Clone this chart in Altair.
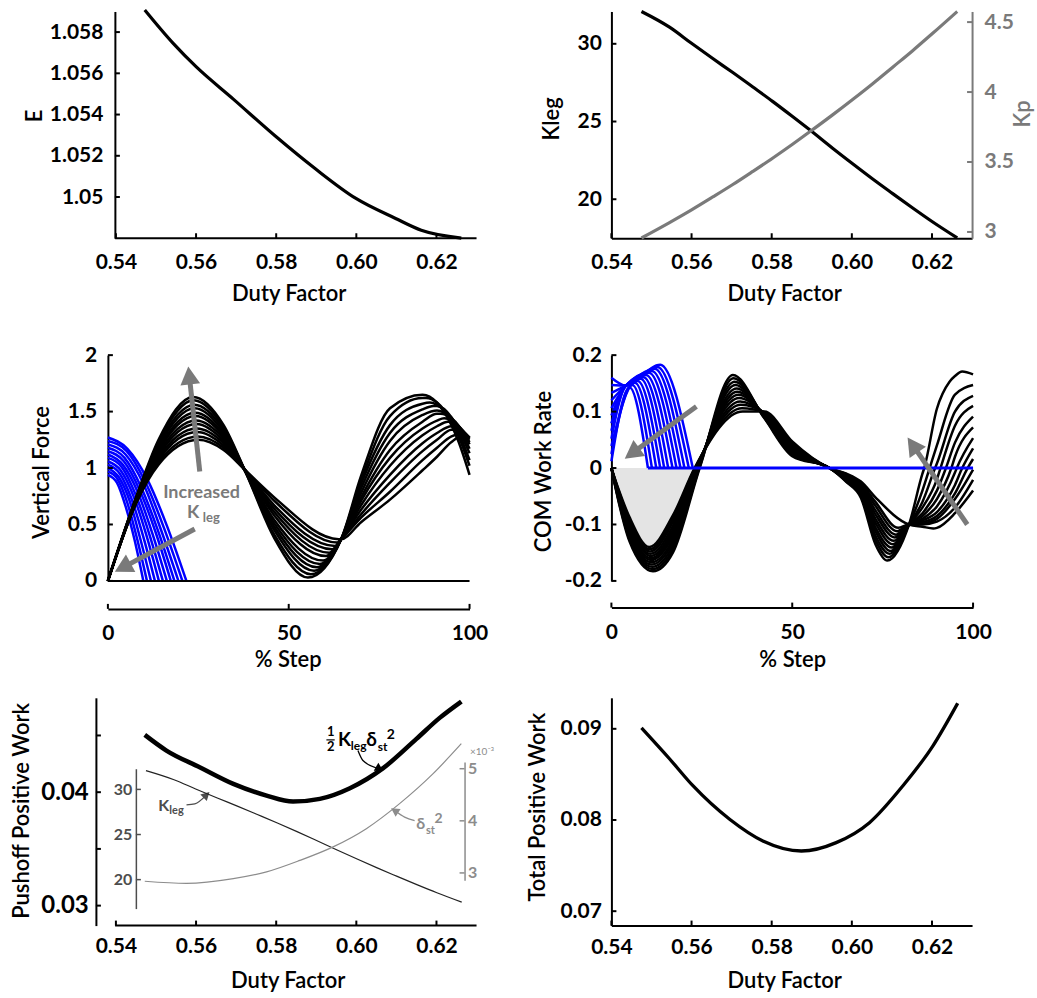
import altair as alt
import pandas as pd

FONT = "Lato"
GREY = "#7a7a7a"
DGREY = "#4d4d4d"
LGREY = "#8c8c8c"
BLUE = "#0000ff"
FILL = "#e4e4e4"
HEAD_SHAPE = "M0,-1L1.1,1L-1.1,1Z"

# ====================== values ======================
DUTY_TICKS = [0.54, 0.56, 0.58, 0.60, 0.62]
AXIS_START = 0.5398

# (A) E vs duty factor
DF_E = [0.5472, 0.5543, 0.5600, 0.5693, 0.5800, 0.5897, 0.5999, 0.6098, 0.6162, 0.6262]
E_VAL = [1.05907, 1.05745, 1.05632, 1.05475, 1.05292, 1.05138, 1.04993, 1.04896, 1.04839, 1.04801]
E_TICKS = [1.050, 1.052, 1.054, 1.056, 1.058]

# (B) Kleg and Kp vs duty factor
DF_K = [0.5475, 0.5545, 0.5599, 0.5653, 0.5703, 0.5753, 0.5803, 0.5852,
        0.5894, 0.5952, 0.6002, 0.6052, 0.6102, 0.6151, 0.6201, 0.6263]
KLEG = [32.08, 31.07, 30.05, 29.05, 28.15, 27.22, 26.28, 25.32,
        24.48, 23.28, 22.28, 21.30, 20.36, 19.45, 18.55, 17.51]
KP = [2.957, 3.067, 3.156, 3.250, 3.339, 3.433, 3.529, 3.627,
      3.714, 3.837, 3.947, 4.060, 4.178, 4.294, 4.418, 4.576]
KLEG_TICKS = [20, 25, 30]
KP_TICKS = [3, 3.5, 4, 4.5]

# (C) vertical force, black family (12 curves, high Kleg -> low Kleg), values at features
F8 = [.76, .75, .75, .74, .74, .73, .73, .72, .72, .71, .71, .70]
F14 = [1.25, 1.23, 1.21, 1.19, 1.17, 1.15, 1.13, 1.11, 1.09, 1.07, 1.05, 1.03]
P1X = [23.6, 23.7, 23.9, 24.0, 24.1, 24.2, 24.4, 24.5, 24.6, 24.7, 24.9, 25.0]
P1Y = [1.63, 1.60, 1.56, 1.53, 1.49, 1.46, 1.42, 1.39, 1.35, 1.32, 1.28, 1.25]
F32 = [1.38, 1.36, 1.34, 1.32, 1.30, 1.28, 1.26, 1.24, 1.22, 1.20, 1.18, 1.16]
F38 = [.97, .97, .97, .97, .97, .97, .98, .98, .98, .98, .98, .98]
F46 = [.38, .41, .45, .48, .51, .54, .58, .61, .64, .67, .71, .74]
TRX = [55.3, 56.1, 57.0, 57.8, 58.6, 59.5, 60.3, 61.2, 62.0, 62.8, 63.4, 63.8]
TRY = [.03, .06, .09, .12, .15, .18, .22, .25, .28, .31, .34, .37]
CROSS_X, CROSS_Y = 64.5, 0.37
F70 = [.93, .89, .86, .82, .78, .74, .71, .67, .63, .59, .56, .52]
F78 = [1.53, 1.46, 1.38, 1.31, 1.24, 1.16, 1.09, 1.02, .94, .87, .79, .72]
F87 = [1.65, 1.62, 1.57, 1.52, 1.47, 1.41, 1.35, 1.29, 1.22, 1.15, 1.07, .98]
P2X = [87, 88, 89, 90, 91, 92, 93, 94, 95, 96, 97, 98]
P2Y = [1.65, 1.62, 1.58, 1.55, 1.51, 1.48, 1.44, 1.41, 1.37, 1.34, 1.30, 1.27]
F91 = [1.58, 1.58, 1.56, 1.55, 1.51, 1.48, 1.42, 1.37, 1.31, 1.25, 1.18, 1.10]
F95 = [1.38, 1.41, 1.43, 1.45, 1.44, 1.44, 1.42, 1.41, 1.37, 1.34, 1.28, 1.23]
F97 = [1.23, 1.28, 1.31, 1.34, 1.36, 1.375, 1.37, 1.37, 1.35, 1.34, 1.30, 1.27]
F100 = [.94, 1.02, 1.07, 1.13, 1.17, 1.21, 1.23, 1.26, 1.27, 1.27, 1.26, 1.25]

# (C) vertical force, blue (pushoff) family: x and y of each curve
BF_X = [[0, 5.4, 10.9, 16.3, 21.7], [0, 5.2, 10.3, 15.5, 20.6], [0, 4.9, 9.8, 14.6, 19.5],
        [0, 4.6, 9.2, 13.8, 18.4], [0, 4.4, 8.7, 13.1, 17.4], [0, 4.1, 8.2, 12.2, 16.3],
        [0, 3.8, 7.6, 11.4, 15.2], [0, 3.5, 7.1, 10.6, 14.1], [0, 3.3, 6.5, 9.8, 13.0],
        [0, 3.0, 6.0, 8.9, 11.9], [0, 2.7, 5.4, 8.1, 10.8], [0, 2.5, 4.9, 7.4, 9.8]]
BF_Y = [[1.27, 1.17, .90, .49, 0], [1.24, 1.15, .88, .47, 0], [1.21, 1.12, .86, .46, 0],
        [1.18, 1.09, .83, .45, 0], [1.15, 1.06, .81, .44, 0], [1.12, 1.03, .79, .43, 0],
        [1.09, 1.01, .77, .42, 0], [1.06, .98, .75, .41, 0], [1.03, .95, .73, .39, 0],
        [1.00, .92, .71, .38, 0], [.97, .90, .69, .37, 0], [.94, .87, .66, .36, 0]]

# (D) COM work rate, black family
W2 = [-.060, -.058, -.056, -.054, -.052, -.050, -.048, -.046, -.044, -.042, -.040, -.038]
W5 = [-.130, -.126, -.122, -.118, -.114, -.110, -.106, -.102, -.099, -.095, -.091, -.087]
TW1X = [11.5, 11.4, 11.3, 11.2, 11.1, 11.0, 11.0, 10.9, 10.8, 10.7, 10.6, 10.5]
TW1Y = [-.183, -.179, -.175, -.171, -.167, -.163, -.160, -.156, -.152, -.148, -.144, -.140]
W17 = [-.150, -.144, -.138, -.132, -.127, -.121, -.115, -.109, -.103, -.096, -.090, -.084]
Z1X = [24.4, 24.3, 24.1, 24.0, 23.9, 23.8, 23.6, 23.5, 23.4, 23.3, 23.1, 23.0]
WP1X = [33.6, 33.8, 34.1, 34.3, 34.6, 34.8, 35.1, 35.3, 35.6, 35.8, 36.1, 36.3]
WP1Y = [.165, .159, .153, .147, .141, .135, .130, .124, .118, .112, .106, .100]
W42 = [.088, .089, .090, .091, .092, .093, .095, .096, .097, .098, .099, .100]
W50 = [.021, .023, .026, .028, .030, .033, .035, .038, .040, .042, .045, .047]
Z2X = 60.3
W65 = [-.025, -.024, -.022, -.021, -.020, -.018, -.017, -.016, -.014, -.013, -.011, -.010]
W69 = [-.053, -.050, -.048, -.045, -.042, -.040, -.037, -.035, -.032, -.029, -.027, -.024]
W73 = [-.135, -.127, -.120, -.112, -.105, -.097, -.090, -.082, -.075, -.067, -.060, -.052]
TW2X = [76.3, 76.6, 76.9, 77.2, 77.5, 77.8, 78.1, 78.4, 78.7, 79.0, 79.3, 89.0]
TW2Y = [-.164, -.158, -.152, -.147, -.141, -.135, -.129, -.123, -.118, -.112, -.106, -.107]
PINCH_X, PINCH_Y = 82.3, -0.100
W86 = [-.010, -.040, -.060, -.070, -.080, -.085, -.090, -.093, -.096, -.098, -.100, -.104]
W90 = [.105, .040, .008, -.020, -.040, -.055, -.068, -.078, -.085, -.090, -.095, -.106]
W95 = [.163, .130, .100, .075, .045, .020, -.008, -.030, -.045, -.055, -.070, -.080]
Z3X = [86.5, 88.0, 89.5, 91.0, 92.5, 94.0, 95.5, 97.0, 98.5]
WEND = [.166, .147, .128, .110, .091, .072, .053, .035, .016, -.003, -.021, -.040]
H_TAIL_X = [93.5, 97.0]
H_TAIL_Y = [.153, .171]

# (D) COM work rate, blue (pushoff) family
BW_V0 = [.160, .147, .133, .120, .106, .093, .079, .066, .052, .039, .025, .012]
BW_XP = [13.5, 12.7, 12.0, 11.2, 10.4, 9.6, 8.9, 8.1, 7.3, 6.5, 5.8, 5.0]
BW_P = [.183, .179, .176, .172, .169, .165, .161, .158, .154, .151, .147, .143]
BW_XE = [22.5, 21.4, 20.2, 19.1, 18.0, 16.9, 15.7, 14.6, 13.5, 12.4, 11.2, 10.1]
VALLEY_X, VALLEY_Y = 4.0, 0.146

# (E) pushoff positive work, with Kleg and delta_st^2 insets
DF_P = [0.5472, 0.5526, 0.5609, 0.5693, 0.5776, 0.5842, 0.5909, 0.5984, 0.6067, 0.6150, 0.6208, 0.6262]
PUSH = [.04505, .04367, .04220, .04073, .03970, .03917, .03941, .04035, .04212, .04470, .04655, .04799]
DF_D = [0.5472, 0.5576, 0.5693, 0.5776, 0.5859, 0.5942, 0.6025, 0.6108, 0.6191, 0.6262]
DELTA = [2.84, 2.80, 2.89, 3.02, 3.24, 3.50, 3.85, 4.33, 4.90, 5.48]
PUSH_LABELS = [0.03, 0.04]
PUSH_TICKS = [0.03, 0.035, 0.04, 0.045]
DELTA_TICKS = [3, 4, 5]

# (F) total positive work
DF_T = [0.5475, 0.5546, 0.5604, 0.5695, 0.5778, 0.5874, 0.5961, 0.6044, 0.6127, 0.6202, 0.6264]
TOTAL = [.0901, .08666, .08373, .08008, .0777, .0766, .07752, .07971, .08373, .08811, .0928]
TOTAL_TICKS = [0.07, 0.08, 0.09]

# annotations (data coordinates)
C_ARROW_TAIL = [(25.4, 0.97), (24.0, 0.46)]
C_ARROW_HEAD = [(22.5, 1.82), (4.1, 0.118)]
C_ARROW_ANGLE = [353.6, 241.6]
C_TEXT = [("Increased", 25.9, 0.775, 18), ("K", 23.6, 0.598, 18), ("leg", 28.6, 0.553, 13)]
D_ARROW_TAIL = [(23.5, 0.109), (98.4, -0.100)]
D_ARROW_HEAD = [(5.69, 0.026), (83.3, 0.041)]
D_ARROW_ANGLE = [233.9, 325.5]
E_TEXT = [  # text, x, y, size, colour, align, baseline
    ("1", 0.5936, 0.04529, 13, "black", "center", "middle"),
    ("2", 0.5936, 0.04397, 13, "black", "center", "middle"),
    ("K", 0.59542, 0.04411, 19, "black", "left", "alphabetic"),
    ("leg", 0.59862, 0.04376, 12, "black", "left", "alphabetic"),
    ("δ", 0.60250, 0.04411, 19, "black", "left", "alphabetic"),
    ("st", 0.60532, 0.04367, 12, "black", "left", "alphabetic"),
    ("2", 0.60760, 0.04470, 14, "black", "left", "alphabetic"),
    ("K", 0.55054, 0.03838, 16, DGREY, "left", "alphabetic"),
    ("leg", 0.55333, 0.03809, 11, DGREY, "left", "alphabetic"),
    ("δ", 0.61496, 0.03676, 16, LGREY, "left", "alphabetic"),
    ("st", 0.61740, 0.03632, 11, LGREY, "left", "alphabetic"),
    ("2", 0.61950, 0.03729, 14, LGREY, "left", "alphabetic"),
]
E_FRAC_BAR = (0.59253, 0.59460, 0.04461)
E_CURVED_ARROWS = [  # points, head angle, colour
    ([(0.60040, 0.04367), (0.60165, 0.04279), (0.60582, 0.04205)], 120, "black"),
    ([(0.55762, 0.03888), (0.55969, 0.03897), (0.56261, 0.03976)], 45, DGREY),
    ([(0.61454, 0.03750), (0.61205, 0.03780), (0.60955, 0.03838)], 303, LGREY),
]

# ====================== layout ======================
W_L, W_C, W_R, W_D = 369, 362, 361, 362
H1, H2, H3 = 227, 226, 228
FAM_W = 2.5


def axis(**kw):
    base = dict(grid=False, ticks=False, tickSize=0, labelFont=FONT, labelFontSize=21,
                labelFontWeight="bold", labelColor="black", titleFont=FONT, titleFontSize=22,
                titleFontWeight=600, titleColor="black", domainColor="black", domainWidth=2,
                labelFlush=False, labelOverlap=False)
    base.update(kw)
    return alt.Axis(**base)


def x_axis(title, values, pad, title_x, title_y, **kw):
    return axis(title=title, values=values, labelPadding=pad, labelBaseline="middle",
                titleX=title_x, titleY=title_y, titleAlign="center", titleBaseline="middle", **kw)


def y_axis(title, values, pad, title_x, title_y, **kw):
    return axis(title=title, values=values, labelPadding=pad, titleX=title_x, titleY=title_y,
                titleAlign="center", titleBaseline="middle", titleAngle=270, **kw)


class Frame:
    """x/y scales and axes shared by every layer of one panel."""

    def __init__(self, xs, xa, ys, ya):
        self.xs, self.xa, self.ys, self.ya = xs, xa, ys, ya

    def X(self, f):
        return alt.X(f, scale=self.xs, axis=self.xa)

    def Y(self, f):
        return alt.Y(f, scale=self.ys, axis=self.ya)


def xticks(fr, values, ypix, color="black", length=5, width=2):
    return alt.Chart(pd.DataFrame({"v": values})).mark_rule(color=color, strokeWidth=width).encode(
        x=fr.X("v:Q"), y=alt.value(ypix), y2=alt.value(ypix - length))


def yticks(fr, values, xpix, direction=1, color="black", length=5, width=2):
    return alt.Chart(pd.DataFrame({"v": values})).mark_rule(color=color, strokeWidth=width).encode(
        y=fr.Y("v:Q"), x=alt.value(xpix), x2=alt.value(xpix + direction * length))


def hline(fr, x0, x1, yv, color, width):
    d = pd.DataFrame({"a": [x0], "b": [x1], "z": [yv]})
    return alt.Chart(d).mark_rule(color=color, strokeWidth=width).encode(
        x=fr.X("a:Q"), x2="b:Q", y=fr.Y("z:Q"))


def family_df(curves):
    rows = []
    for cid, pts in enumerate(curves):
        for x, y in sorted(pts):
            rows.append({"x": x, "y": y, "c": cid})
    return pd.DataFrame(rows)


def family(fr, curves, color, width):
    return alt.Chart(family_df(curves)).mark_line(
        color=color, strokeWidth=width, interpolate="monotone").encode(
        x=fr.X("x:Q"), y=fr.Y("y:Q"), detail="c:N")


def arrows(fr, tails, heads, angles, color=GREY, shaft=5, size=324):
    rows = []
    for i, (t, h) in enumerate(zip(tails, heads)):
        rows += [{"x": t[0], "y": t[1], "a": i}, {"x": h[0], "y": h[1], "a": i}]
    s = alt.Chart(pd.DataFrame(rows)).mark_line(color=color, strokeWidth=shaft).encode(
        x=fr.X("x:Q"), y=fr.Y("y:Q"), detail="a:N")
    hd = pd.DataFrame({"x": [h[0] for h in heads], "y": [h[1] for h in heads], "ang": angles})
    h = alt.Chart(hd).mark_point(shape=HEAD_SHAPE, filled=True, opacity=1, color=color,
                                 size=size, strokeWidth=0).encode(
        x=fr.X("x:Q"), y=fr.Y("y:Q"), angle=alt.Angle("ang:Q", scale=None))
    return [s, h]


# ---------- curve assembly ----------
def force_black(k):
    pts = {0: 0.0, 8: F8[k], 14: F14[k], 32: F32[k], 38: F38[k], 46: F46[k], CROSS_X: CROSS_Y,
           70: F70[k], 78: F78[k], 87: F87[k], 91: F91[k], 95: F95[k], 97: F97[k], 100: F100[k]}
    pts[P1X[k]] = P1Y[k]
    pts[TRX[k]] = TRY[k]
    pts[P2X[k]] = P2Y[k]
    return list(pts.items())


def work_black(k):
    pts = {0: 0.0, 2: W2[k], 5: W5[k], 17: W17[k], 42.3: W42[k], 50: W50[k], Z2X: 0.0,
           65: W65[k], 69: W69[k], 73: W73[k], PINCH_X: PINCH_Y, 86: W86[k], 90: W90[k],
           95: W95[k], 100: WEND[k]}
    pts[TW1X[k]] = TW1Y[k]
    pts[Z1X[k]] = 0.0
    pts[WP1X[k]] = WP1Y[k]
    pts[TW2X[k]] = TW2Y[k]
    if k < len(Z3X):
        pts[Z3X[k]] = 0.0
    if k == 0:
        pts.update(zip(H_TAIL_X, H_TAIL_Y))
    return list(pts.items())


def work_blue(k):
    pts = {0: BW_V0[k], BW_XP[k]: BW_P[k], BW_XE[k]: 0.0}
    if BW_XP[k] > 6.8:
        pts[VALLEY_X] = VALLEY_Y
    return list(pts.items())


force_black_curves = [force_black(k) for k in range(len(P1X))]
force_blue_curves = [list(zip(BF_X[k], BF_Y[k])) for k in range(len(BF_X))]
work_black_curves = [work_black(k) for k in range(len(TW1X))]
work_blue_curves = [work_blue(k) for k in range(len(BW_V0))]

xs_L = alt.Scale(domain=[0.538, 0.63], nice=False, zero=False)
xs_R = alt.Scale(domain=[0.54, 0.63], nice=False, zero=False)
xs_S = alt.Scale(domain=[0, 100], nice=False, zero=False)

# ====================== panel A ======================
fa = Frame(xs_L, x_axis("Duty Factor", DUTY_TICKS, 24, 181, 55, format=".2f", domain=False),
           alt.Scale(domain=[1.048, 1.059], nice=False, zero=False),
           y_axis("E", E_TICKS, 12, -80, 104, offset=-7, labelExpr="format(datum.value, '.3~f')"))
pA = alt.layer(
    alt.Chart(pd.DataFrame({"x": DF_E, "y": E_VAL})).mark_line(
        color="black", strokeWidth=3.2, interpolate="monotone").encode(x=fa.X("x:Q"), y=fa.Y("y:Q")),
    hline(fa, AXIS_START, 0.63, 1.048, "black", 2),
    xticks(fa, DUTY_TICKS, H1),
    yticks(fa, E_TICKS, 7),
).properties(width=W_L, height=H1)

# ====================== panel B ======================
xa_B = x_axis("Duty Factor", DUTY_TICKS, 24, 173, 55, format=".2f")
fb = Frame(xs_R, xa_B, alt.Scale(domain=[17.49, 32.08], nice=False, zero=False),
           y_axis("Kleg", KLEG_TICKS, 10, -60, 107, format="d", orient="left"))
fb2 = Frame(xs_R, xa_B, alt.Scale(domain=[2.955, 4.576], nice=False, zero=False),
            y_axis("Kp", KP_TICKS, 12, 50, 102, orient="right", format="~g", labelColor=GREY,
                   titleColor=GREY, domainColor=GREY))
dfK = pd.DataFrame({"x": DF_K, "k": KLEG, "p": KP})
b_left = alt.layer(
    alt.Chart(dfK).mark_line(color="black", strokeWidth=3.2, interpolate="monotone").encode(
        x=fb.X("x:Q"), y=fb.Y("k:Q")),
    xticks(fb, DUTY_TICKS, H1),
    yticks(fb, KLEG_TICKS, 0),
)
b_right = alt.layer(
    alt.Chart(dfK).mark_line(color=GREY, strokeWidth=3.2, interpolate="monotone").encode(
        x=fb2.X("x:Q"), y=fb2.Y("p:Q")),
    yticks(fb2, KP_TICKS, W_R, -1, color=GREY),
)
pB = alt.layer(b_left, b_right).resolve_scale(y="independent").properties(width=W_R, height=H1)

# ====================== panel C ======================
fc = Frame(xs_S, x_axis("% Step", [0, 50, 100], 24.7, 180, 51, format="d", offset=28),
           alt.Scale(domain=[0, 2], nice=False, zero=False),
           y_axis("Vertical Force", [0, 0.5, 1, 1.5, 2], 11.3, -66, 117, format="~g"))
c_text = pd.DataFrame({"t": [t[0] for t in C_TEXT], "x": [t[1] for t in C_TEXT],
                       "y": [t[2] for t in C_TEXT], "s": [t[3] for t in C_TEXT]})
pC = alt.layer(
    family(fc, force_blue_curves, BLUE, FAM_W),
    family(fc, force_black_curves, "black", FAM_W),
    hline(fc, 0, 100, 0, "black", 2),
    *arrows(fc, C_ARROW_TAIL, C_ARROW_HEAD, C_ARROW_ANGLE),
    alt.Chart(c_text).mark_text(font=FONT, fontWeight="bold", color=GREY, align="center",
                                baseline="middle").encode(
        x=fc.X("x:Q"), y=fc.Y("y:Q"), text="t:N", size=alt.Size("s:Q", scale=None, legend=None)),
    xticks(fc, [0, 50, 100], H2 + 28),
    yticks(fc, [0, 0.5, 1, 1.5, 2], 0),
).properties(width=W_C, height=H2)

# ====================== panel D ======================
W_LABEL = "datum.value < 0 ? '-' + format(-datum.value, '~g') : format(datum.value, '~g')"
fd = Frame(xs_S, x_axis("% Step", [0, 50, 100], 25, 181, 51.6, format="d", offset=26.7),
           alt.Scale(domain=[-0.2, 0.2], nice=False, zero=False),
           y_axis("COM Work Rate", [-0.2, -0.1, 0, 0.1, 0.2], 10, -67.7, 116, labelExpr=W_LABEL))
fill_pts = [p for p in sorted(work_black_curves[-1]) if p[0] <= Z1X[-1]]
fill_df = pd.DataFrame({"x": [p[0] for p in fill_pts], "y": [p[1] for p in fill_pts],
                        "z": [0.0] * len(fill_pts)})
pD = alt.layer(
    alt.Chart(fill_df).mark_area(color=FILL, interpolate="monotone").encode(
        x=fd.X("x:Q"), y=fd.Y("y:Q"), y2="z:Q"),
    family(fd, work_black_curves, "black", FAM_W),
    family(fd, work_blue_curves, BLUE, FAM_W),
    hline(fd, min(BW_XE), 100, 0, BLUE, 3),
    *arrows(fd, D_ARROW_TAIL, D_ARROW_HEAD, D_ARROW_ANGLE),
    xticks(fd, [0, 50, 100], H2 + 26.7),
    yticks(fd, [-0.2, -0.1, 0, 0.1, 0.2], 0),
).properties(width=W_D, height=H2)

# ====================== panel E ======================
xa_E = x_axis("Duty Factor", DUTY_TICKS, 20.6, 180, 55, format=".2f", domain=False)
fe = Frame(xs_L, xa_E, alt.Scale(domain=[0.02824, 0.04832], nice=False, zero=False),
           y_axis("Pushoff Positive Work", PUSH_LABELS, 7.7, -74, 112.7, offset=12, format=".2f",
                  labelFontSize=24, orient="left"))
fek = Frame(xs_L, xa_E, alt.Scale(domain=[16.79, 32.29], range=[211, 71], nice=False, zero=False),
            axis(title=" ", values=KLEG_TICKS, orient="left", offset=-28, labelPadding=4, format="d",
                 labelFontSize=16, labelColor=DGREY, domainColor=DGREY, domainWidth=1.5))
fed = Frame(xs_L, xa_E, alt.Scale(domain=[2.858, 5.128], range=[182.7, 64.3], nice=False, zero=False),
            axis(title="×10⁻³", values=DELTA_TICKS, orient="right", offset=-12, labelPadding=3,
                 format="d", labelFontSize=16, labelColor=LGREY, domainColor=LGREY,
                 domainWidth=1.5, titleAngle=0, titleX=17, titleY=54, titleAlign="center",
                 titleBaseline="middle", titleFontSize=10, titleFontWeight="normal",
                 titleColor=LGREY))
e_text = pd.DataFrame({"t": [t[0] for t in E_TEXT], "x": [t[1] for t in E_TEXT],
                       "y": [t[2] for t in E_TEXT], "s": [t[3] for t in E_TEXT],
                       "col": [t[4] for t in E_TEXT], "al": [t[5] for t in E_TEXT],
                       "bl": [t[6] for t in E_TEXT]})
e_layers = []
for (al, bl), grp in e_text.groupby(["al", "bl"]):
    e_layers.append(alt.Chart(grp).mark_text(font=FONT, fontWeight="bold", align=al, baseline=bl).encode(
        x=fe.X("x:Q"), y=fe.Y("y:Q"), text="t:N",
        size=alt.Size("s:Q", scale=None, legend=None), color=alt.Color("col:N", scale=None, legend=None)))
for pts, ang, col in E_CURVED_ARROWS:
    d = pd.DataFrame({"x": [p[0] for p in pts], "y": [p[1] for p in pts]})
    e_layers.append(alt.Chart(d).mark_line(color=col, strokeWidth=1.3, interpolate="monotone").encode(
        x=fe.X("x:Q"), y=fe.Y("y:Q")))
    hd = pd.DataFrame({"x": [pts[-1][0]], "y": [pts[-1][1]], "ang": [ang]})
    e_layers.append(alt.Chart(hd).mark_point(shape=HEAD_SHAPE, filled=True, opacity=1, color=col,
                                             size=70, strokeWidth=0).encode(
        x=fe.X("x:Q"), y=fe.Y("y:Q"), angle=alt.Angle("ang:Q", scale=None)))

e_main = alt.layer(
    alt.Chart(pd.DataFrame({"x": DF_P, "y": PUSH})).mark_line(
        color="black", strokeWidth=4.5, interpolate="monotone").encode(x=fe.X("x:Q"), y=fe.Y("y:Q")),
    hline(fe, AXIS_START, 0.63, 0.02824, "black", 2),
    xticks(fe, DUTY_TICKS, H3),
    yticks(fe, PUSH_TICKS, -12),
    hline(fe, E_FRAC_BAR[0], E_FRAC_BAR[1], E_FRAC_BAR[2], "black", 1.2),
    *e_layers,
)
e_kleg = alt.layer(
    alt.Chart(dfK).mark_line(color="#222222", strokeWidth=1.2, interpolate="monotone").encode(
        x=fek.X("x:Q"), y=fek.Y("k:Q")),
    yticks(fek, KLEG_TICKS, 28, 1, color=DGREY, width=1.5),
)
e_delta = alt.layer(
    alt.Chart(pd.DataFrame({"x": DF_D, "d": DELTA})).mark_line(
        color=LGREY, strokeWidth=1.2, interpolate="monotone").encode(x=fed.X("x:Q"), y=fed.Y("d:Q")),
    yticks(fed, DELTA_TICKS, W_L - 12, -1, color=LGREY, width=1.5),
)
pE = alt.layer(e_main, e_kleg, e_delta).resolve_scale(y="independent").properties(width=W_L, height=H3)

# ====================== panel F ======================
ff = Frame(xs_R, x_axis("Duty Factor", DUTY_TICKS, 21.7, 173, 55, format=".2f"),
           alt.Scale(domain=[0.06842, 0.0934], nice=False, zero=False),
           y_axis("Total Positive Work", TOTAL_TICKS, 10, -74, 109, format=".2f"))
pF = alt.layer(
    alt.Chart(pd.DataFrame({"x": DF_T, "y": TOTAL})).mark_line(
        color="black", strokeWidth=3.3, interpolate="monotone").encode(x=ff.X("x:Q"), y=ff.Y("y:Q")),
    xticks(ff, DUTY_TICKS, H3),
    yticks(ff, TOTAL_TICKS, 0),
).properties(width=W_R, height=H3)

chart = alt.concat(pA, pB, pC, pD, pE, pF, columns=2, spacing={"row": 117, "column": 135},
                   bounds="flush").properties(
    padding={"left": 10, "top": 3, "right": 4, "bottom": 2}
).configure(font=FONT).configure_view(strokeWidth=0)

chart.save("out.html", embed_options={"renderer": "svg", "actions": False})
